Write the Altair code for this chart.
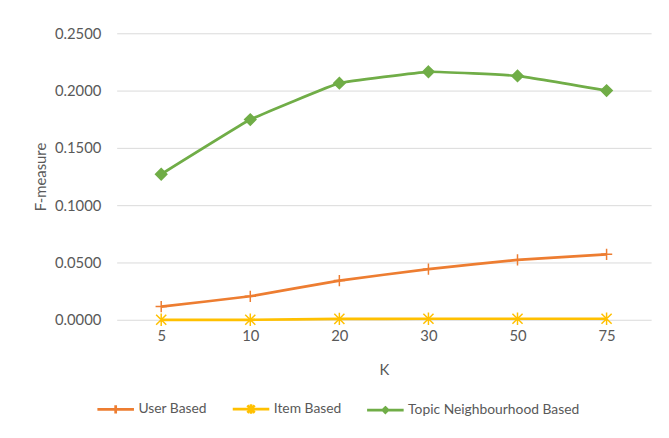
import altair as alt
import pandas as pd

k_values = ["5", "10", "20", "30", "50", "75"]
series_names = ["User Based", "Item Based", "Topic Neighbourhood Based"]
user_based = [0.0115, 0.0205, 0.0342, 0.0442, 0.0522, 0.0571]
item_based = [0.0000, 0.0000, 0.0008, 0.0009, 0.0009, 0.0009]
topic_based = [0.1270, 0.1747, 0.2065, 0.2164, 0.2128, 0.2000]
y_ticks = [0.0, 0.05, 0.10, 0.15, 0.20, 0.25]

colors = ["#ED7D31", "#FFC000", "#70AD47"]
marker_paths = [
    "M-1,0L1,0M0,-1L0,1",
    "M-0.9,-0.9L0.9,0.9M-0.9,0.9L0.9,-0.9M0,-1.1L0,1.1",
    "M0,-1L1,0L0,1L-1,0Z",
]
legend_paths = [
    "M-1,0L1,0M0,-0.22L0,0.22",
    "M-1,0L1,0M-0.2,-0.2L0.2,0.2M-0.2,0.2L0.2,-0.2M0,-0.26L0,0.26",
    "M-1,0L1,0M0,-0.14L0.14,0L0,0.14L-0.14,0Z",
]

rows = []
for name, vals in zip(series_names, [user_based, item_based, topic_based]):
    for k, v in zip(k_values, vals):
        rows.append({"K": k, "value": v, "series": name})
df = pd.DataFrame(rows)

font = "Lato"
text_color = "#595959"

x_enc = alt.X("K:O", sort=k_values, title="K",
              axis=alt.Axis(labelAngle=0, ticks=False, domain=False, grid=False,
                            labelPadding=9, titlePadding=19))
y_enc = alt.Y("value:Q", title="F-measure",
              scale=alt.Scale(domain=[0, 0.25], nice=False),
              axis=alt.Axis(values=y_ticks, format=".4f", ticks=False, domain=False,
                            labelPadding=16, titlePadding=6, gridColor="#d9d9d9"))

base = alt.Chart(df)

lines = base.mark_line(interpolate="cardinal", tension=0.75, strokeWidth=2.75).encode(
    x=x_enc, y=y_enc,
    color=alt.Color("series:N", scale=alt.Scale(domain=series_names, range=colors), legend=None),
)

points = base.mark_point(size=130, strokeWidth=1.5, opacity=1).encode(
    x=x_enc, y=y_enc,
    shape=alt.Shape("series:N", scale=alt.Scale(domain=series_names, range=marker_paths), legend=None),
    stroke=alt.Stroke("series:N", scale=alt.Scale(domain=series_names, range=colors), legend=None),
    fill=alt.condition(alt.datum.series == "Topic Neighbourhood Based",
                       alt.value("#70AD47"), alt.value("transparent")),
)

leg = dict(title=None, orient="none", direction="horizontal", legendX=-21, legendY=360,
           symbolSize=1369, labelLimit=0)

legend_layer = base.mark_point(size=1369, strokeWidth=2.75, opacity=1, clip=True).encode(
    x=alt.value(-300), y=alt.value(-300),
    shape=alt.Shape("series:N", scale=alt.Scale(domain=series_names, range=legend_paths),
                    legend=alt.Legend(**leg)),
    stroke=alt.Stroke("series:N", scale=alt.Scale(domain=series_names, range=colors),
                      legend=alt.Legend(**leg)),
)

chart = alt.layer(lines, points, legend_layer).resolve_scale(
    shape="independent", stroke="independent", color="independent"
).resolve_legend(shape="independent", stroke="independent").properties(
    width=541, height=290,
    autosize=alt.AutoSizeParams(type="none"),
    padding={"left": 110, "top": 23, "right": 10, "bottom": 110},
).configure_view(stroke=None).configure_axis(
    labelFont=font, titleFont=font, labelFontSize=15, titleFontSize=15,
    labelColor=text_color, titleColor=text_color, titleFontWeight="normal",
).configure_legend(
    labelFont=font, labelFontSize=14, labelColor=text_color, labelOffset=3,
    columnPadding=20, symbolStrokeWidth=2.75, symbolSize=1369, labelLimit=0,
)

chart.save("out.html", embed_options={"renderer": "svg", "actions": False})
